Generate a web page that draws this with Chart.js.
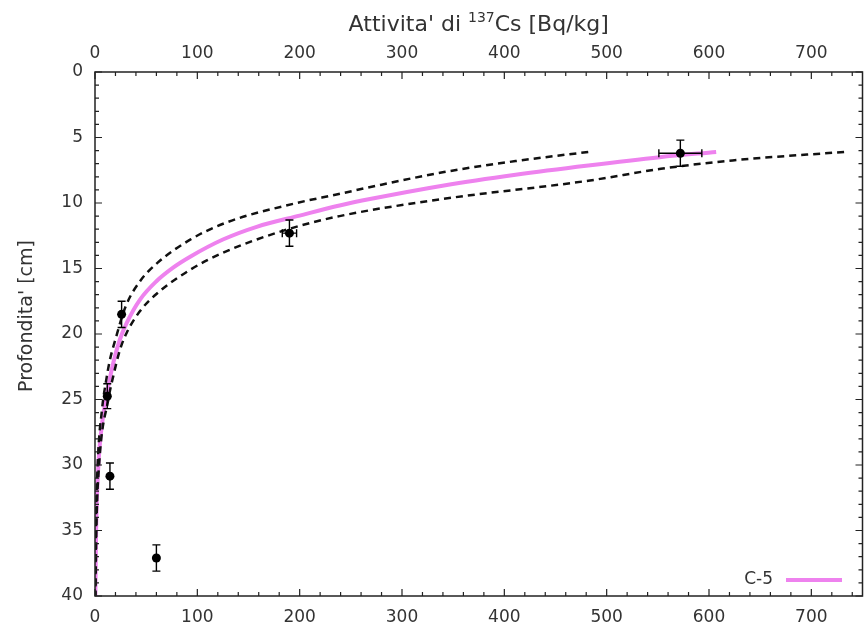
<!DOCTYPE html>
<html>
<head>
<meta charset="utf-8">
<script src="https://cdn.jsdelivr.net/npm/chart.js@4.4.1/dist/chart.umd.min.js"></script>
<style>
  html, body { margin: 0; padding: 0; background: #fff; }
</style>
</head>
<body>
<canvas id="chart" width="867" height="626"></canvas>
<script>
// misure C-5 (profondita' in cm, attivita' in Bq/kg)
const depth = [6.2, 12.3, 18.5, 24.75, 30.85, 37.1];
const activity = [572, 190, 26, 12, 14.6, 60];
const activityErr = [21, 7, 0, 0, 0, 0];
const depthErr = [1.0, 1.0, 1.0, 0.95, 1.0, 1.0];

// curva di fit (viola)
const fitDepth = [6.1, 6.5, 7.13, 7.84, 8.66, 9.68, 10.19, 10.96, 11.82, 12.79, 14.1, 14.95, 15.97, 17.37, 19.15, 20.4, 22.2, 24.0, 26.0, 27.3, 30, 35, 40];
const fitActivity = [607, 552, 482, 411, 341, 270, 239, 200, 158, 125, 93, 76, 60, 44, 31, 24.4, 17.9, 13, 8.4, 6.2, 3.3, 1.1, 0.35];

// banda tratteggiata superiore / inferiore
const upDepth = [6.1, 6.8, 7.64, 8.6, 9.35, 10.04, 11.5, 12.8, 14.57, 15.97, 17.88, 20.4, 22.0, 23.5, 25.8, 30, 35, 40];
const upActivity = [482, 411, 341, 280, 236, 195, 128, 93, 61, 44, 30, 20, 14.5, 11, 6.8, 2.6, 0.85, 0.28];
const loDepth = [6.1, 6.75, 7.39, 8.3, 9.68, 11.0, 11.97, 13.8, 15.1, 16.95, 18.25, 19.9, 21.2, 23.2, 25, 30, 35, 40];
const loActivity = [732, 623, 553, 482, 341, 239, 190, 125, 93, 60, 44, 31, 24.4, 17.9, 13, 4, 1.3, 0.42];

const xTicks = [0, 100, 200, 300, 400, 500, 600, 700];
const yTicks = [0, 5, 10, 15, 20, 25, 30, 35, 40];
const seriesName = 'C-5';

const pts = (xs, ys) => xs.map((v, i) => ({ x: v, y: ys[i] }));
const VIOLET = '#ee82ee';
const FONT = '"DejaVu Sans", sans-serif';

Chart.defaults.font.family = FONT;
Chart.defaults.color = '#333';

const decor = {
  id: 'decor',
  afterDatasetsDraw(chart) {
    const { ctx, scales: { x, y } } = chart;
    ctx.save();
    ctx.strokeStyle = '#000';
    ctx.lineWidth = 1.4;
    depth.forEach((d, i) => {
      const px = x.getPixelForValue(activity[i]);
      const py = y.getPixelForValue(d);
      const y0 = y.getPixelForValue(d - depthErr[i]);
      const y1 = y.getPixelForValue(d + depthErr[i]);
      ctx.beginPath();
      ctx.moveTo(px, y0); ctx.lineTo(px, y1);
      ctx.moveTo(px - 4, y0); ctx.lineTo(px + 4, y0);
      ctx.moveTo(px - 4, y1); ctx.lineTo(px + 4, y1);
      if (activityErr[i] > 0) {
        const x0 = x.getPixelForValue(activity[i] - activityErr[i]);
        const x1 = x.getPixelForValue(activity[i] + activityErr[i]);
        ctx.moveTo(x0, py); ctx.lineTo(x1, py);
        ctx.moveTo(x0, py - 4); ctx.lineTo(x0, py + 4);
        ctx.moveTo(x1, py - 4); ctx.lineTo(x1, py + 4);
      }
      ctx.stroke();
    });
    ctx.restore();
  },
  afterDraw(chart) {
    const { ctx, chartArea: a, scales: { x, y } } = chart;
    ctx.save();
    // cornice e tacche interne (come gnuplot)
    ctx.strokeStyle = '#222';
    ctx.lineWidth = 1.5;
    ctx.strokeRect(a.left, a.top, a.right - a.left, a.bottom - a.top);
    ctx.lineWidth = 1.2;
    ctx.beginPath();
    for (let v = 0; v <= x.max; v += 20) {
      const p = x.getPixelForValue(v);
      const L = v % 100 === 0 ? 7 : 4;
      ctx.moveTo(p, a.bottom); ctx.lineTo(p, a.bottom - L);
      ctx.moveTo(p, a.top); ctx.lineTo(p, a.top + L);
    }
    for (let v = 0; v <= y.max; v += 1) {
      const p = y.getPixelForValue(v);
      const L = v % 5 === 0 ? 7 : 4;
      ctx.moveTo(a.left, p); ctx.lineTo(a.left + L, p);
      ctx.moveTo(a.right, p); ctx.lineTo(a.right - L, p);
    }
    ctx.stroke();

    // titolo asse superiore con apice
    ctx.fillStyle = '#333';
    ctx.textBaseline = 'alphabetic';
    ctx.textAlign = 'left';
    const t1 = "Attivita' di ", sup = '137', t2 = 'Cs [Bq/kg]';
    ctx.font = '22px ' + FONT;
    const w1 = ctx.measureText(t1).width, w2 = ctx.measureText(t2).width;
    ctx.font = '14px ' + FONT;
    const ws = ctx.measureText(sup).width;
    let sx = (a.left + a.right) / 2 - (w1 + ws + w2) / 2;
    ctx.font = '22px ' + FONT;
    ctx.fillText(t1, sx, 31);
    ctx.font = '14px ' + FONT;
    ctx.fillText(sup, sx + w1, 22);
    ctx.font = '22px ' + FONT;
    ctx.fillText(t2, sx + w1 + ws, 31);

    // titolo asse y
    ctx.save();
    ctx.translate(27, 316);
    ctx.rotate(-Math.PI / 2);
    ctx.textAlign = 'center';
    ctx.textBaseline = 'middle';
    ctx.font = '19px ' + FONT;
    ctx.fillText("Profondita' [cm]", 0, 0);
    ctx.restore();

    // legenda
    ctx.font = '17px ' + FONT;
    ctx.textAlign = 'right';
    ctx.textBaseline = 'middle';
    ctx.fillText(seriesName, 773, 580);
    ctx.strokeStyle = VIOLET;
    ctx.lineWidth = 4;
    ctx.beginPath();
    ctx.moveTo(786, 580); ctx.lineTo(842, 580);
    ctx.stroke();
    ctx.restore();
  }
};

const tickFont = { size: 17, family: FONT };

const curve = (label, xs, ys, color, width, dash, order) => ({
  type: 'line',
  label: label,
  data: pts(xs, ys),
  borderColor: color,
  borderWidth: width,
  borderDash: dash,
  pointRadius: 0,
  fill: false,
  cubicInterpolationMode: 'monotone',
  order: order
});

new Chart(document.getElementById('chart'), {
  type: 'scatter',
  data: {
    datasets: [
      {
        label: 'misure',
        data: pts(activity, depth),
        backgroundColor: '#000',
        borderWidth: 0,
        pointRadius: 4.5,
        order: 0
      },
      curve('banda sup', upActivity, upDepth, '#111', 2.5, [7, 5], 1),
      curve('banda inf', loActivity, loDepth, '#111', 2.5, [7, 5], 2),
      curve(seriesName, fitActivity, fitDepth, VIOLET, 4, [], 3)
    ]
  },
  options: {
    responsive: false,
    animation: false,
    devicePixelRatio: 1,
    layout: { padding: { right: 3 } },
    plugins: { legend: { display: false }, tooltip: { enabled: false } },
    scales: {
      x: {
        type: 'linear', position: 'bottom', min: 0, max: 750,
        afterBuildTicks: s => { s.ticks = xTicks.map(v => ({ value: v })); },
        afterFit: s => { s.height = 30; },
        grid: { display: false, drawTicks: false },
        border: { display: false },
        ticks: { font: tickFont, color: '#333', padding: 11, maxRotation: 0 }
      },
      x2: {
        type: 'linear', position: 'top', min: 0, max: 750,
        afterBuildTicks: s => { s.ticks = xTicks.map(v => ({ value: v })); },
        afterFit: s => { s.height = 72; },
        grid: { display: false, drawTicks: false },
        border: { display: false },
        ticks: { font: tickFont, color: '#333', padding: 8, maxRotation: 0 }
      },
      y: {
        type: 'linear', position: 'left', min: 0, max: 40, reverse: true,
        afterBuildTicks: s => { s.ticks = yTicks.map(v => ({ value: v })); },
        afterFit: s => { s.width = 95; },
        grid: { display: false, drawTicks: false },
        border: { display: false },
        ticks: { font: tickFont, color: '#333', padding: 12 }
      }
    }
  },
  plugins: [decor]
});
</script>
</body>
</html>
